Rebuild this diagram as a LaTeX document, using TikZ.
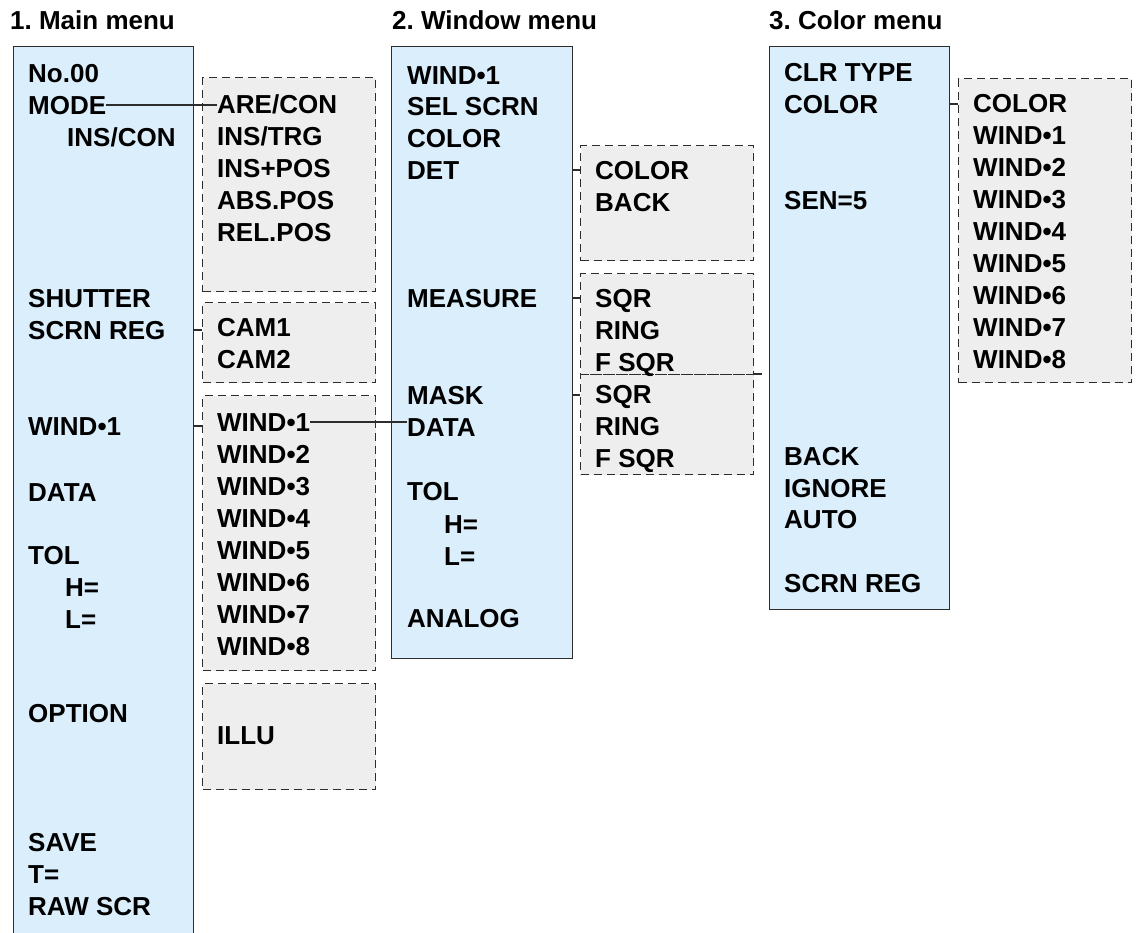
\documentclass[tikz,border=0pt]{standalone}
\usepackage{fontspec}
\setmainfont{Liberation Sans}
\usepackage{tikz}
\usetikzlibrary{calc}
\frenchspacing

\definecolor{menublue}{RGB}{219, 238, 252}
\definecolor{subgray}{RGB}{238, 238, 238}
\definecolor{edgegray}{RGB}{45, 45, 45}

\tikzset{
    menubox/.style={draw=edgegray, fill=menublue, line width=1.4pt, rectangle, anchor=north west, inner sep=0pt},
    subbox/.style={draw=edgegray, fill=subgray, dash pattern=on 8pt off 5pt, line width=1.3pt, rectangle, anchor=north west, inner sep=0pt},
    item/.style={anchor=base west, inner sep=0pt, font=\fontsize{26}{32}\selectfont\bfseries},
    menutitle/.style={anchor=base west, inner sep=0pt, font=\fontsize{26}{30}\selectfont\bfseries},
    link/.style={draw=edgegray, line width=1.4pt},
    sublink/.style={draw=edgegray, line width=1.3pt, dash pattern=on 8pt off 5pt},
}

\begin{document}
\begin{tikzpicture}[x=1pt, y=-1pt]
    \useasboundingbox (0,0) rectangle (1137,932);

    % Titles
    \node[menutitle] (tmain) at (10, 29) {1. Main menu};
    \node[menutitle] (twin) at (392, 29) {2. Window menu};
    \node[menutitle] (tclr) at (769, 29) {3. Color menu};

    % Menu columns
    \node[menubox, minimum width=180pt, minimum height=900pt] (mainbox) at (13, 46) {};
    \node[menubox, minimum width=181pt, minimum height=612pt] (winbox) at (391, 46) {};
    \node[menubox, minimum width=180pt, minimum height=563pt] (clrbox) at (769, 46) {};

    % Option boxes
    \node[subbox, minimum width=173pt, minimum height=214pt] (modebox) at (202, 77) {};
    \node[subbox, minimum width=173pt, minimum height=80pt] (cambox) at (202, 302) {};
    \node[subbox, minimum width=173pt, minimum height=275pt] (mwindbox) at (202, 395) {};
    \node[subbox, minimum width=173pt, minimum height=106pt] (illubox) at (202, 683) {};
    \node[subbox, minimum width=173pt, minimum height=115pt] (detbox) at (580, 145) {};
    \node[subbox, minimum width=173pt, minimum height=101pt] (measbox) at (580, 273) {};
    \node[subbox, minimum width=173pt, minimum height=100pt] (maskbox) at (580, 374) {};
    \node[subbox, minimum width=173pt, minimum height=304pt] (cselbox) at (958, 78) {};
    \draw[sublink] (maskbox.north east) -- ++(9,0);

    % Main menu items
    \node[item] (mno) at (28, 82) {No.00};
    \node[item] (mmode) at (28, 114) {MODE};
    \node[item] (minscon) at (67, 146) {INS/CON};
    \node[item] (mshut) at (28, 307) {SHUTTER};
    \node[item] (mscrn) at (28, 339) {SCRN REG};
    \node[item] (mwind) at (28, 435) {WIND•1};
    \node[item] (mdata) at (28, 501) {DATA};
    \node[item] (mtol) at (28, 564) {TOL};
    \node[item] (mh) at (65, 596) {H=};
    \node[item] (ml) at (65, 628) {L=};
    \node[item] (mopt) at (28, 722) {OPTION};
    \node[item] (msave) at (28, 851) {SAVE};
    \node[item] (mt) at (28, 883) {T=};
    \node[item] (mraw) at (28, 915) {RAW SCR};

    % Main menu options
    \node[item] (mare) at (217, 113) {ARE/CON};
    \foreach \txt [count=\i from 2] in {INS/TRG, INS+POS, ABS.POS, REL.POS}
        \node[item] (mode\i) at (217, {113+32*(\i-1)}) {\txt};
    \node[item] (cam1) at (217, 336) {CAM1};
    \node[item] (cam2) at (217, 368) {CAM2};
    \node[item] (mw1) at (217, 431) {WIND•1};
    \foreach \i in {2,...,8}
        \node[item] (mw\i) at (217, {431+32*(\i-1)}) {WIND•\i};
    \node[item] (illu) at (217, 744) {ILLU};

    % Window menu items
    \node[item] (wwind) at (407, 84) {WIND•1};
    \node[item] (wsel) at (407, 115) {SEL SCRN};
    \node[item] (wcolor) at (407, 147) {COLOR};
    \node[item] (wdet) at (407, 179) {DET};
    \node[item] (wmeas) at (407, 307) {MEASURE};
    \node[item] (wmask) at (407, 404) {MASK};
    \node[item] (wdata) at (407, 436) {DATA};
    \node[item] (wtol) at (407, 500) {TOL};
    \node[item] (wh) at (444, 533) {H=};
    \node[item] (wl) at (444, 565) {L=};
    \node[item] (wanalog) at (407, 627) {ANALOG};

    % Window menu options
    \node[item] (dcolor) at (595, 179) {COLOR};
    \node[item] (dback) at (595, 211) {BACK};
    \foreach \txt [count=\i] in {SQR, RING, F SQR} {
        \node[item] (meas\i) at (595, {307+32*(\i-1)}) {\txt};
        \node[item] (mask\i) at (595, {403+32*(\i-1)}) {\txt};
    }

    % Color menu items
    \node[item] (ctype) at (784, 81) {CLR TYPE};
    \node[item] (ccolor) at (784, 113) {COLOR};
    \node[item] (csen) at (784, 209) {SEN=5};
    \node[item] (cback) at (784, 465) {BACK};
    \node[item] (cign) at (784, 497) {IGNORE};
    \node[item] (cauto) at (784, 528) {AUTO};
    \node[item] (cscrn) at (784, 592) {SCRN REG};

    % Color menu options
    \node[item] (scolor) at (973, 112) {COLOR};
    \foreach \i in {1,...,8}
        \node[item] (sw\i) at (973, {112+32*\i}) {WIND•\i};

    % Ticks to option boxes
    \draw[link] (mscrn -| mainbox.east) -- (mscrn -| cambox.west);
    \draw[link] (mwind -| mainbox.east) -- (mwind -| mwindbox.west);
    \draw[link] (wdet -| winbox.east) -- (wdet -| detbox.west);
    \draw[link] (wmeas -| winbox.east) -- (wmeas -| measbox.west);
    \draw[link] (wmask -| winbox.east) -- (wmask -| maskbox.west);
    \draw[link] (ccolor -| clrbox.east) -- (ccolor -| cselbox.west);

    % Connectors
    \draw[link] (mmode.east) -- (mmode.east -| mare.west);
    \draw[link] (mw1.east) -- (mw1.east -| wdata.west);
    \draw[link] ($(wsel)!0.5!(wcolor)$ -| winbox.east) -- ($(wsel)!0.5!(wcolor)$ -| clrbox.west);
\end{tikzpicture}
\end{document}
